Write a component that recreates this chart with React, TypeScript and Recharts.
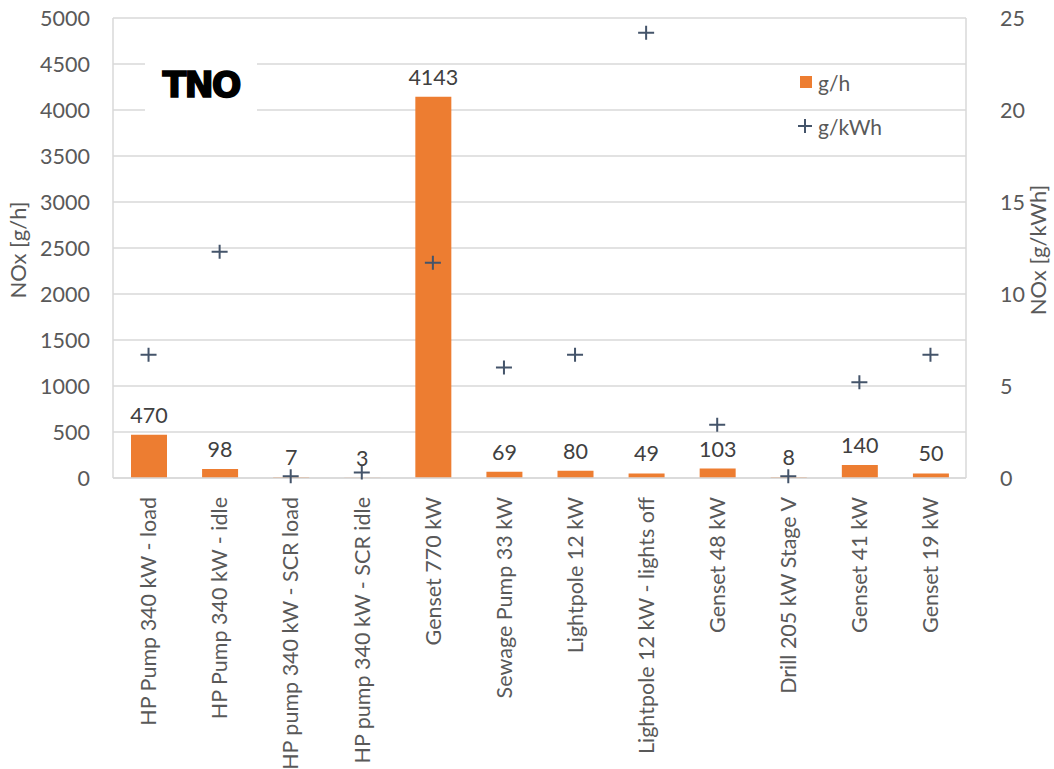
import React from 'react';
import { ComposedChart, Bar, Line, XAxis, YAxis, CartesianGrid, LabelList, Legend } from 'recharts';

const categories = [
  'HP Pump 340 kW - load',
  'HP Pump 340 kW - idle',
  'HP pump 340 kW - SCR load',
  'HP pump 340 kW - SCR idle',
  'Genset 770 kW',
  'Sewage Pump 33 kW',
  'Lightpole 12 kW',
  'Lightpole 12 kW - lights off',
  'Genset 48 kW',
  'Drill 205 kW Stage V',
  'Genset 41 kW',
  'Genset 19 kW',
];
const gPerHour = [470, 98, 7, 3, 4143, 69, 80, 49, 103, 8, 140, 50];
const gPerKWh = [6.7, 12.3, 0.1, 0.3, 11.7, 6.0, 6.7, 24.2, 2.9, 0.1, 5.2, 6.7];
const leftTicks = [0, 500, 1000, 1500, 2000, 2500, 3000, 3500, 4000, 4500, 5000];
const rightTicks = [0, 5, 10, 15, 20, 25];
const leftMinorTicks = Array.from({ length: 51 }, (_, i) => i * 100);
const rightMinorTicks = Array.from({ length: 26 }, (_, i) => i);

const data = categories.map((name, i) => ({ name, gh: gPerHour[i], gkwh: gPerKWh[i] }));

const FONT = 'Lato, "Open Sans", sans-serif';
const TEXT = '#595959';
const GRID = '#d9d9d9';
const ORANGE = '#ED7D31';
const BLUE = '#44546A';

const CategoryTick = (props: any) => {
  const { x, y, payload } = props;
  return (
    <text
      x={x}
      y={y}
      transform={`rotate(-90 ${x} ${y})`}
      textAnchor="end"
      dx={-19}
      dy="0.36em"
      fill={TEXT}
      fontSize={21.5}
      fontFamily={FONT}
    >
      {payload.value}
    </text>
  );
};

const PlusDot = (props: any) => {
  const { cx, cy, index } = props;
  if (cx == null || cy == null) return <g key={index} />;
  return (
    <path
      key={index}
      d={`M${cx - 8},${cy}H${cx + 8}M${cx},${cy - 7}V${cy + 7}`}
      stroke={BLUE}
      strokeWidth={2}
      fill="none"
    />
  );
};

const LegendContent = (props: any) => {
  const payload = props.payload || [];
  return (
    <div style={{ fontFamily: FONT, fontSize: 21, color: TEXT }}>
      {payload.map((p: any, i: number) => (
        <div key={i} style={{ display: 'flex', alignItems: 'center', height: 44 }}>
          <svg width={18} height={18} style={{ marginRight: 4 }}>
            {p.dataKey === 'gh' ? (
              <rect x={4} y={3} width={12} height={12} fill={ORANGE} />
            ) : (
              <path d="M2,9H16M9,2V16" stroke={BLUE} strokeWidth={2} />
            )}
          </svg>
          <span>{p.value}</span>
        </div>
      ))}
    </div>
  );
};

const axisTitle = (text: string, dxFromAxis: number) => (p: any) => {
  const vb = p.viewBox || {};
  const cx = vb.x + dxFromAxis;
  const cy = vb.y + vb.height / 2 + 2;
  return (
    <text
      x={cx}
      y={cy}
      transform={`rotate(-90 ${cx} ${cy})`}
      textAnchor="middle"
      dy="0.36em"
      fill={TEXT}
      fontSize={22}
      fontFamily={FONT}
    >
      {text}
    </text>
  );
};

export default function App() {
  return (
    <div style={{ position: 'absolute', left: 0, top: 0, width: 1054, height: 769, background: '#fff' }}>
      <ComposedChart
        width={1054}
        height={769}
        data={data}
        margin={{ top: 18, right: 0, bottom: 0, left: 0 }}
        barCategoryGap={0}
      >
        <CartesianGrid yAxisId="left" vertical={false} stroke={GRID} strokeWidth={1.5} />
        <XAxis
          dataKey="name"
          interval={0}
          height={291}
          tickLine={false}
          tickSize={0}
          tickMargin={0}
          axisLine={{ stroke: GRID, strokeWidth: 1.5 }}
          tick={<CategoryTick />}
        />
        <YAxis
          yAxisId="left"
          orientation="left"
          width={113}
          domain={[0, 5000]}
          ticks={leftTicks}
          interval={0}
          tickLine={false}
          tickMargin={17}
          axisLine={{ stroke: GRID, strokeWidth: 1.5 }}
          tick={{ fill: TEXT, fontSize: 21.5, fontFamily: FONT }}
          label={{ content: axisTitle('NOx [g/h]', 18) }}
        />
        <YAxis
          yAxisId="leftMinor"
          orientation="left"
          mirror
          width={0}
          domain={[0, 5000]}
          ticks={leftMinorTicks}
          interval={0}
          tickSize={5}
          tickLine={{ stroke: GRID }}
          axisLine={false}
          tick={() => <g />}
        />
        <YAxis
          yAxisId="right"
          orientation="right"
          width={88}
          domain={[0, 25]}
          ticks={rightTicks}
          interval={0}
          tickLine={false}
          tickMargin={28}
          axisLine={{ stroke: GRID, strokeWidth: 1.5 }}
          tick={{ fill: TEXT, fontSize: 21.5, fontFamily: FONT, textAnchor: 'start' }}
          label={{ content: axisTitle('NOx [g/kWh]', 72) }}
        />
        <YAxis
          yAxisId="rightMinor"
          orientation="right"
          mirror
          width={0}
          domain={[0, 25]}
          ticks={rightMinorTicks}
          interval={0}
          tickSize={5}
          tickLine={{ stroke: GRID }}
          axisLine={false}
          tick={() => <g />}
        />
        <Bar yAxisId="left" dataKey="gh" name="g/h" fill={ORANGE} barSize={36} isAnimationActive={false}>
          <LabelList dataKey="gh" position="top" offset={12} fill="#404040" fontSize={21.5} fontFamily={FONT} />
        </Bar>
        <Line
          yAxisId="right"
          dataKey="gkwh"
          name="g/kWh"
          stroke="none"
          dot={<PlusDot />}
          activeDot={false}
          isAnimationActive={false}
        />
        <Legend
          layout="vertical"
          align="center"
          verticalAlign="middle"
          content={<LegendContent />}
          wrapperStyle={{ left: 796, top: 60, width: 120 }}
        />
      </ComposedChart>
      <div
        style={{
          position: 'absolute',
          left: 145,
          top: 56,
          width: 112,
          height: 58,
          background: '#fff',
          display: 'flex',
          alignItems: 'center',
          justifyContent: 'center',
        }}
      >
        <span
          style={{
            fontFamily: '"DejaVu Sans", sans-serif',
            fontWeight: 900,
            fontSize: 35,
            letterSpacing: -2,
            color: '#000',
            WebkitTextStroke: '1.5px #000',
            lineHeight: 1,
          }}
        >
          TNO
        </span>
      </div>
    </div>
  );
}
